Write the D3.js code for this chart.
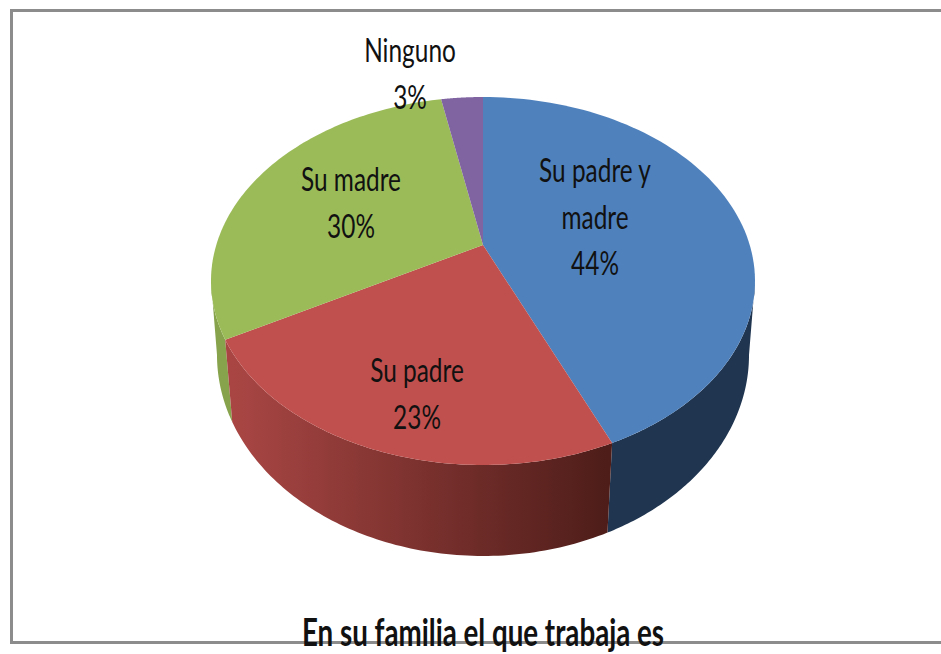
<!DOCTYPE html>
<html><head><meta charset="utf-8">
<script src="https://cdn.jsdelivr.net/npm/d3@7/dist/d3.min.js"></script>
<style>html,body{margin:0;padding:0;background:#fff;overflow:hidden}svg{display:block}</style>
</head><body><svg id="c" width="941" height="654"></svg>
<script>
const categories = ["Su padre y madre", "Su padre", "Su madre", "Ninguno"];
const values = [43.5, 23.45, 30.05, 3];
const labelLines = [["Su padre y", "madre"], ["Su padre"], ["Su madre"], ["Ninguno"]];
const topColors = ["#4f81bd", "#c0504d", "#9bbb59", "#8064a2"];
const title = "En su familia el que trabaja es";

// layout of the perspective view
const cx = 483;
const topPlane = {apexY: 245, k: -0.1957, rx: 272, ry: 184};
const botPlane = {apexY: 318.8, k: -0.18, rx: 266, ry: 201};
const labelPos = [[595, 174], [417, 374], [351, 183], [410, 54]];
const labelGap = 46.5;

function project(plane, a) {
  const u = Math.sin(a), v = -Math.cos(a), d = 1 + plane.k * v;
  const A = plane.rx * Math.sqrt(1 - plane.k * plane.k);
  const B = plane.ry * (1 - plane.k * plane.k);
  return [cx + A * u / d, plane.apexY + B * v / d];
}
const samples = (a0, a1, n = 90) => d3.range(n + 1).map(i => a0 + (a1 - a0) * i / n);
const line = d3.line();
const svg = d3.select("#c");
const defs = svg.append("defs");

const pie = d3.pie().sort(null).value(d => d)(values);

// frame
const frame = svg.append("g").attr("fill", "none").attr("stroke", "#8c8c8c").attr("stroke-width", 3);
frame.append("path").attr("d", line([[941, 10.5], [11.5, 10.5], [11.5, 642.5], [941, 642.5]]));

// red side gradient
const p0 = project(botPlane, pie[1].endAngle), p1 = project(botPlane, pie[1].startAngle);
const grad = defs.append("linearGradient").attr("id", "redSide").attr("gradientUnits", "userSpaceOnUse")
  .attr("x1", p0[0]).attr("x2", p1[0]).attr("y1", 0).attr("y2", 0);
grad.append("stop").attr("offset", 0).attr("stop-color", "#a94644");
grad.append("stop").attr("offset", 1).attr("stop-color", "#4e1d19");

// visible sides: top plane arc a0..a1, back along the bottom plane arc
function side(t0, t1, b0, b1, fill) {
  const t = samples(t0, t1).map(a => project(topPlane, a));
  const b = samples(b0, b1).map(a => project(botPlane, a)).reverse();
  svg.append("path").attr("d", line(t.concat(b)) + "Z").attr("fill", fill);
}
const extremeT = Math.acos(topPlane.k), extremeB = Math.acos(botPlane.k);
side(extremeT, pie[0].endAngle, extremeB, pie[0].endAngle, "#1f3550");
side(pie[1].endAngle, 2 * Math.PI - extremeT, pie[1].endAngle, 2 * Math.PI - extremeB, "#87a34c");
side(pie[1].startAngle, pie[1].endAngle, pie[1].startAngle, pie[1].endAngle, "url(#redSide)");

// top faces
svg.append("g").selectAll("path").data(pie).join("path")
  .attr("fill", (d, i) => topColors[i])
  .attr("d", d => line([[cx, topPlane.apexY]].concat(samples(d.startAngle, d.endAngle).map(a => project(topPlane, a)))) + "Z");

// labels
function narrowText(g, str, x, y, size, weight, sx) {
  g.append("text").text(str)
    .attr("transform", `translate(${x},${y}) scale(${sx},1)`)
    .attr("text-anchor", "middle").attr("dominant-baseline", "middle")
    .attr("font-family", "Lato, 'Open Sans', sans-serif")
    .attr("font-size", size).attr("font-weight", weight).attr("fill", "#111");
}
const labels = svg.append("g");
categories.forEach((c, i) => {
  const lines = labelLines[i].concat(d3.format(".0f")(values[i]) + "%");
  lines.forEach((l, j) => narrowText(labels, l, labelPos[i][0], labelPos[i][1] + j * labelGap, 33, 400, 0.74));
});
narrowText(svg, title, cx, 636, 38, 700, 0.73);
</script></body></html>
